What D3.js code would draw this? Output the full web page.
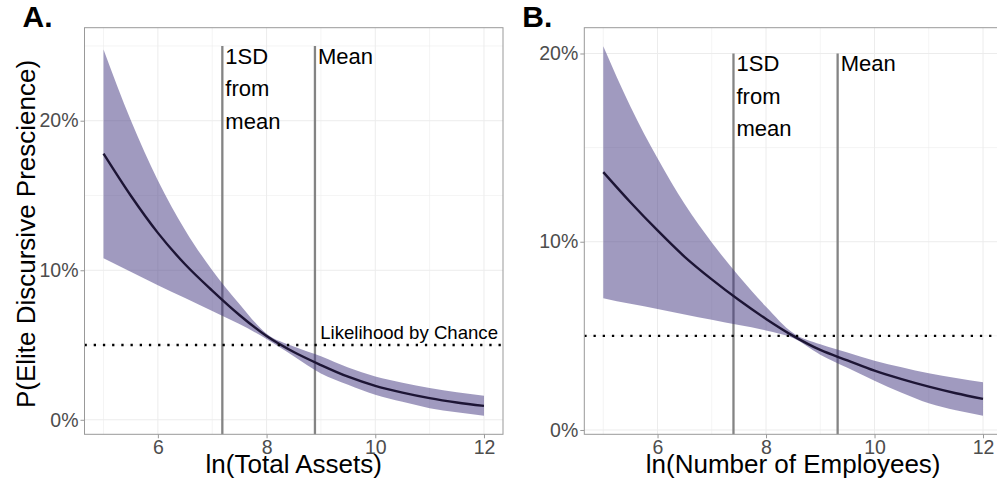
<!DOCTYPE html>
<html>
<head>
<meta charset="utf-8">
<script src="https://cdn.jsdelivr.net/npm/d3@7"></script>
<style>
  body { margin: 0; background: #fff; }
  text { font-family: "Liberation Sans", Arial, sans-serif; }
</style>
</head>
<body>
<svg id="chart" width="997" height="490"></svg>
<script>
// x positions
const xVals = [5, 5.5, 6, 6.5, 7, 7.5, 8, 8.5, 9, 9.5, 10, 10.5, 11, 11.5, 12];

// Panel A: ln(Total Assets)
const assetsFit   = [0.178, 0.150, 0.125, 0.104, 0.0864, 0.0701, 0.056, 0.0453, 0.0366, 0.0288, 0.0227, 0.0182, 0.0145, 0.0116, 0.0093];
const assetsUpper = [0.2476, 0.2004, 0.160, 0.127, 0.100, 0.0775, 0.0575, 0.049, 0.0425, 0.035, 0.029, 0.0248, 0.0212, 0.0184, 0.016];
const assetsLower = [0.108, 0.099, 0.090, 0.0815, 0.0728, 0.064, 0.054, 0.0425, 0.031, 0.0235, 0.0167, 0.012, 0.0078, 0.005, 0.0027];

// Panel B: ln(Number of Employees)
const emplFit   = [0.137, 0.121, 0.106, 0.092, 0.080, 0.069, 0.059, 0.050, 0.0425, 0.037, 0.0315, 0.027, 0.023, 0.0195, 0.0165];
const emplUpper = [0.2039, 0.1719, 0.1443, 0.120, 0.0996, 0.0817, 0.0655, 0.0515, 0.0455, 0.0412, 0.0368, 0.0333, 0.0301, 0.0276, 0.0253];
const emplLower = [0.070, 0.067, 0.0643, 0.0614, 0.0586, 0.0557, 0.0529, 0.0488, 0.0400, 0.0330, 0.0262, 0.0198, 0.0142, 0.0105, 0.0076];

// reference lines
const chance = 0.05;
const assetsRefs = [{x: 7.186, label: ["1SD", "from", "mean"]}, {x: 8.89, label: ["Mean"]}];
const emplRefs   = [{x: 7.40, label: ["1SD", "from", "mean"]}, {x: 9.32, label: ["Mean"]}];

const xTicks = [6, 8, 10, 12];
const xMinor = [5, 7, 9, 11];
const yTicks = [0, 0.1, 0.2];

const svg = d3.select("#chart");

function panel(opts) {
  const {left, right, top, bottom, yDomain, fit, upper, lower, refs, refTop,
         yMinor, tag, xTitle, yTitle, chanceLabel} = opts;

  const x = d3.scaleLinear().domain([4.65, 12.35]).range([left, right]);
  const y = d3.scaleLinear().domain(yDomain).range([bottom, top]);
  const rows = xVals.map((v, i) => ({x: v, fit: fit[i], hi: upper[i], lo: lower[i]}));

  const g = svg.append("g");

  // grid
  g.selectAll(".gx").data(xMinor.concat(xTicks)).enter().append("line")
    .attr("x1", d => x(d)).attr("x2", d => x(d)).attr("y1", top).attr("y2", bottom)
    .attr("stroke", "#ececec").attr("stroke-width", d => xTicks.includes(d) ? 1 : 0.6);
  g.selectAll(".gy").data(yMinor.concat(yTicks)).enter().append("line")
    .attr("x1", left).attr("x2", right).attr("y1", d => y(d)).attr("y2", d => y(d))
    .attr("stroke", "#ececec").attr("stroke-width", d => yTicks.includes(d) ? 1 : 0.6);

  // vertical reference lines
  g.selectAll(".ref").data(refs).enter().append("line")
    .attr("x1", d => x(d.x)).attr("x2", d => x(d.x))
    .attr("y1", bottom).attr("y2", y(refTop))
    .attr("stroke", "#848484").attr("stroke-width", 2.3);

  // ribbon
  g.append("path").datum(rows)
    .attr("d", d3.area().x(d => x(d.x)).y0(d => y(d.lo)).y1(d => y(d.hi)).curve(d3.curveMonotoneX))
    .attr("fill", "#41357f").attr("fill-opacity", 0.5);

  // fitted line
  g.append("path").datum(rows)
    .attr("d", d3.line().x(d => x(d.x)).y(d => y(d.fit)).curve(d3.curveMonotoneX))
    .attr("fill", "none").attr("stroke", "#1d1535").attr("stroke-width", 2.4);

  // chance line
  g.append("line")
    .attr("x1", left).attr("x2", right).attr("y1", y(chance)).attr("y2", y(chance))
    .attr("stroke", "#000").attr("stroke-width", 2.3).attr("stroke-dasharray", "2.3,6.9");

  if (chanceLabel) {
    g.append("text").attr("x", right - 5).attr("y", y(chance) - 6)
      .attr("text-anchor", "end").style("font-size", "18.6px").attr("fill", "#000")
      .text(chanceLabel);
  }

  // reference labels
  refs.forEach(r => {
    const t = g.append("text").attr("x", x(r.x) + 3).attr("y", y(refTop) + 18)
      .style("font-size", "22px").attr("fill", "#000");
    r.label.forEach((s, i) => {
      t.append("tspan").attr("x", x(r.x) + 3).attr("dy", i === 0 ? 0 : 32.5).text(s);
    });
  });

  // panel border
  g.append("rect").attr("x", left).attr("y", top)
    .attr("width", right - left).attr("height", bottom - top)
    .attr("fill", "none").attr("stroke", "#999").attr("stroke-width", 1);

  // axes
  const ax = g.append("g").attr("transform", `translate(0,${bottom})`)
    .call(d3.axisBottom(x).tickValues(xTicks).tickSize(4).tickPadding(2));
  const ay = g.append("g").attr("transform", `translate(${left},0)`)
    .call(d3.axisLeft(y).tickValues(yTicks).tickFormat(d3.format(".0%")).tickSize(4).tickPadding(2));
  [ax, ay].forEach(a => {
    a.select(".domain").remove();
    a.selectAll(".tick line").attr("stroke", "#999");
    a.selectAll(".tick text").attr("fill", "#4d4d4d")
      .style("font-size", "19.5px").style("font-family", '"Liberation Sans", Arial, sans-serif');
  });
  ax.selectAll(".tick text").attr("dy", "0.71em");

  // titles
  g.append("text").attr("x", (left + right) / 2).attr("y", 473)
    .attr("text-anchor", "middle").style("font-size", "26px").attr("fill", "#000")
    .text(xTitle);
  if (yTitle) {
    g.append("text").attr("transform", `translate(35,${(top + bottom) / 2 + 3}) rotate(-90)`)
      .attr("text-anchor", "middle").style("font-size", "26px").attr("fill", "#000")
      .text(yTitle);
  }
  g.append("text").attr("x", left - 62).attr("y", 27)
    .style("font-size", "30px").style("font-weight", "bold").attr("fill", "#000")
    .text(tag);
}

panel({
  left: 84.5, right: 503, top: 27.7, bottom: 434.3,
  yDomain: [-0.0097, 0.2622],
  fit: assetsFit, upper: assetsUpper, lower: assetsLower,
  refs: assetsRefs, refTop: 0.25, yMinor: [0.05, 0.15, 0.25],
  tag: "A.", xTitle: "ln(Total Assets)", yTitle: "P(Elite Discursive Prescience)",
  chanceLabel: "Likelihood by Chance"
});

panel({
  left: 584.3, right: 1002, top: 27.7, bottom: 434.3,
  yDomain: [-0.0023, 0.2137],
  fit: emplFit, upper: emplUpper, lower: emplLower,
  refs: emplRefs, refTop: 0.20, yMinor: [0.05, 0.15],
  tag: "B.", xTitle: "ln(Number of Employees)", yTitle: null,
  chanceLabel: null
});
</script>
</body>
</html>
